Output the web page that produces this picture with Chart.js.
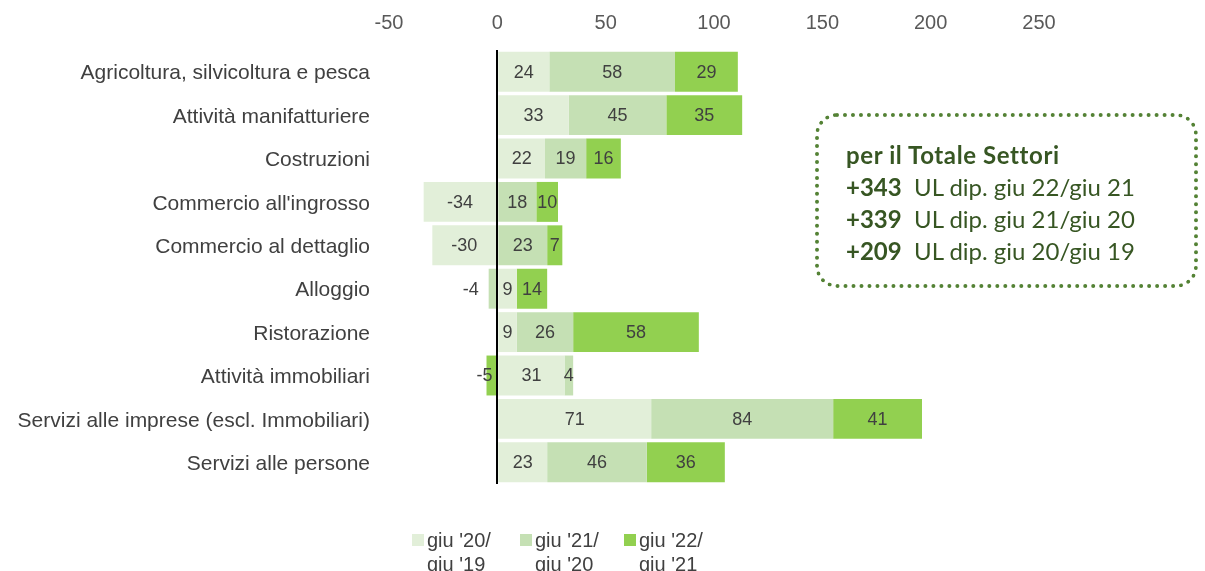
<!DOCTYPE html>
<html lang="it">
<head>
<meta charset="UTF-8">
<title>UL dipendenti per settore</title>
<script src="https://cdn.jsdelivr.net/npm/chart.js@4.4.0/dist/chart.umd.min.js"></script>
<style>
    body { margin: 0; background: #fff; font-family: "Liberation Sans", Arial, sans-serif; }
    #wrap { position: relative; width: 1205px; height: 571px; overflow: hidden; }
    #box {
        position: absolute; left: 815px; top: 113px; width: 383px; height: 175px;
        border: 4px dotted #548235; border-radius: 22px; box-sizing: border-box;
        font-family: Lato, "Open Sans", sans-serif; font-size: 24px; color: #375623;
        padding: 22px 0 0 27px; line-height: 32px;
    }
    #box b { font-weight: 700; }
    #box .t { letter-spacing: 0.6px; }
    #legend { position: absolute; top: 528px; left: 0; }
    .item { position: absolute; display: flex; align-items: flex-start; white-space: nowrap;
            font-size: 20px; color: #404040; line-height: 24px; }
    .sw { width: 12px; height: 12px; flex: none; margin: 6px 3px 0 0; }
</style>
</head>
<body>
<div id="wrap">
    <canvas id="chart" width="1205" height="571"></canvas>
    <div id="box">
        <b class="t">per il Totale Settori</b><br>
        <b>+343</b>&nbsp; UL dip. giu 22/giu 21<br>
        <b>+339</b>&nbsp; UL dip. giu 21/giu 20<br>
        <b>+209</b>&nbsp; UL dip. giu 20/giu 19
    </div>
    <div id="legend"></div>
</div>

<script>
    const categories = [
        'Agricoltura, silvicoltura e pesca',
        'Attività manifatturiere',
        'Costruzioni',
        "Commercio all'ingrosso",
        'Commercio al dettaglio',
        'Alloggio',
        'Ristorazione',
        'Attività immobiliari',
        'Servizi alle imprese (escl. Immobiliari)',
        'Servizi alle persone'
    ];
    const giu20giu19 = [24, 33, 22, -34, -30, 9, 9, 31, 71, 23];
    const giu21giu20 = [58, 45, 19, 18, 23, -4, 26, 4, 84, 46];
    const giu22giu21 = [29, 35, 16, 10, 7, 14, 58, -5, 41, 36];
    const seriesNames = [["giu '20/", "giu '19"], ["giu '21/", "giu '20"], ["giu '22/", "giu '21"]];
    const xTicks = [-50, 0, 50, 100, 150, 200, 250];

    const colors = ['#E2EFD9', '#C5E0B4', '#92D050'];
    const allSeries = [giu20giu19, giu21giu20, giu22giu21];

    // etichette dentro le barre
    const barLabels = {
        id: 'barLabels',
        afterDatasetsDraw(chart) {
            const ctx = chart.ctx;
            ctx.save();
            ctx.font = '18px "Liberation Sans", Arial, sans-serif';
            ctx.fillStyle = '#404040';
            ctx.textBaseline = 'middle';
            chart.data.datasets.forEach((ds, i) => {
                chart.getDatasetMeta(i).data.forEach((bar, j) => {
                    const v = ds.data[j];
                    let x = (bar.x + bar.base) / 2;
                    ctx.textAlign = 'center';
                    // barre negative troppo strette: etichetta a sinistra
                    if (v < 0 && Math.abs(bar.base - bar.x) < 25) {
                        ctx.textAlign = 'right';
                        x = v === -4 ? bar.x - 10 : bar.x + 6;
                    }
                    ctx.fillText(String(v), x, bar.y + 1);
                });
            });
            ctx.restore();
        }
    };

    new Chart(document.getElementById('chart'), {
        type: 'bar',
        data: {
            labels: categories,
            datasets: allSeries.map((d, i) => ({
                label: seriesNames[i].join(' '),
                data: d,
                backgroundColor: colors[i],
                borderWidth: 0,
                barPercentage: 0.92,
                categoryPercentage: 1
            }))
        },
        options: {
            indexAxis: 'y',
            responsive: false,
            animation: false,
            layout: { padding: { left: 0, right: 166, top: 0, bottom: 87 } },
            plugins: { legend: { display: false }, tooltip: { enabled: false } },
            scales: {
                x: {
                    position: 'top',
                    stacked: true,
                    min: -50, max: 250,
                    afterBuildTicks: s => { s.ticks = xTicks.map(v => ({ value: v })); },
                    afterFit: s => { s.height = 50; },
                    border: { display: false },
                    grid: {
                        z: 1,
                        drawTicks: false,
                        lineWidth: 2,
                        color: c => c.tick && c.tick.value === 0 ? '#000000' : 'rgba(0,0,0,0)'
                    },
                    ticks: {
                        padding: 15,
                        color: '#595959',
                        font: { family: '"Liberation Sans", Arial, sans-serif', size: 20 }
                    }
                },
                y: {
                    stacked: true,
                    afterFit: s => { s.width = 389; },
                    border: { display: false },
                    grid: { display: false, drawTicks: false },
                    ticks: {
                        padding: 19,
                        labelOffset: 2,
                        color: '#404040',
                        font: { family: '"Liberation Sans", Arial, sans-serif', size: 21 }
                    }
                }
            }
        },
        plugins: [barLabels]
    });

    const legend = document.getElementById('legend');
    const legendLeft = [412, 520, 624];
    seriesNames.forEach((n, i) => {
        const it = document.createElement('div');
        it.className = 'item';
        it.style.left = legendLeft[i] + 'px';
        it.innerHTML = '<div class="sw" style="background:' + colors[i] + '"></div><div>' + n.join('<br>') + '</div>';
        legend.appendChild(it);
    });
</script>
</body>
</html>
